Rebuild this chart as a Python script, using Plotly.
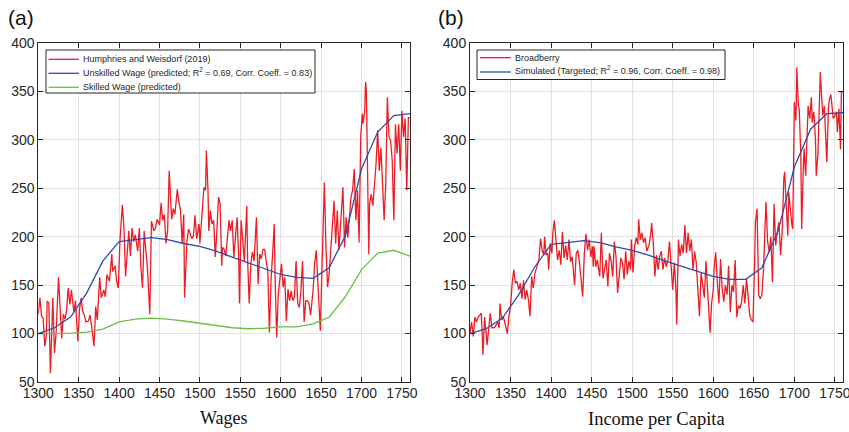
import plotly.graph_objects as go

# ---------------- Panel (a): Wages ----------------
HW_WAGE = [
    (1300,120),(1301,128),(1302,137),(1304,118),(1306,116),(1308,87),(1310,98),(1311,133),(1313,132),(1315,59),
    (1318,137),(1320,80),(1322,100),(1325,158),(1327,118),(1329,95),(1331,120),(1333,115),(1335,124),(1337,147),
    (1339,130),(1341,145),(1344,122),(1346,134),(1349,92),(1351,125),(1353,137),(1355,123),(1357,119),(1359,112),
    (1362,113),(1364,119),(1366,108),(1369,87),(1371,128),(1373,114),(1376,158),(1378,137),(1381,145),(1383,138),
    (1385,161),(1388,154),(1391,182),(1392,164),(1395,170),(1397,154),(1399,147),(1401,195),(1404,233),(1406,209),
    (1408,159),(1410,185),(1412,206),(1414,180),(1416,209),(1418,195),(1420,202),(1423,185),(1425,209),(1427,168),
    (1429,147),(1431,206),(1433,188),(1435,168),(1438,120),(1440,216),(1443,206),(1445,209),(1447,218),(1450,212),
    (1452,235),(1454,217),(1456,223),(1458,193),(1460,206),(1462,268),(1465,218),(1467,229),(1469,223),(1472,249),
    (1474,236),(1476,227),(1478,193),(1480,223),(1481,137),(1484,196),(1486,208),(1488,203),(1490,198),(1492,201),
    (1494,222),(1496,198),(1499,213),(1500,193),(1503,230),(1505,251),(1507,248),(1508,289),(1510,248),(1511,206),
    (1513,227),(1515,213),(1517,217),(1519,179),(1521,206),(1523,241),(1525,234),(1527,170),(1528,189),(1530,187),
    (1532,180),(1535,206),(1536,217),(1538,206),(1540,217),(1542,179),(1544,199),(1546,220),(1548,179),(1549,131),
    (1551,217),(1553,191),(1555,175),(1558,232),(1559,177),(1561,131),(1563,172),(1565,184),(1567,175),(1570,220),
    (1572,151),(1574,182),(1576,177),(1578,187),(1580,187),(1582,175),(1584,165),(1586,101),(1588,155),(1590,182),
    (1592,213),(1593,158),(1595,96),(1597,141),(1599,155),(1601,172),(1603,148),(1605,158),(1607,113),(1609,146),
    (1611,134),(1613,144),(1615,134),(1617,138),(1619,175),(1621,131),(1623,127),(1625,144),(1627,175),(1629,112),
    (1631,134),(1633,134),(1635,131),(1637,119),(1640,144),(1642,172),(1644,186),(1646,151),(1648,107),(1649,103),
    (1651,165),(1654,256),(1656,189),(1658,148),(1660,162),(1662,186),(1664,220),(1666,237),(1668,193),(1670,227),
    (1672,186),(1675,224),(1677,251),(1679,189),(1681,220),(1683,199),(1685,224),(1687,241),(1689,248),(1691,270),
    (1693,217),(1695,248),(1697,194),(1699,303),(1701,327),(1702,317),(1704,330),(1705,360),(1706,351),(1707,286),
    (1709,182),(1710,234),(1712,244),(1714,232),(1716,255),(1718,275),(1720,310),(1722,268),(1724,292),(1726,244),
    (1728,217),(1730,255),(1732,344),(1734,303),(1736,299),(1738,279),(1740,217),(1742,316),(1744,286),(1746,316),
    (1748,268),(1750,330),(1752,303),(1754,322),(1756,248),(1758,323),(1760,323),
]

MODEL_YEARS = [1300,1320,1340,1360,1380,1400,1420,1440,1460,1480,1500,1520,1540,1560,1580,1600,1620,1640,1660,1680,1700,1720,1740,1760]
UNSKILLED = [100,106,117,142,175,195,197,199,197,193,190,185,179,173,167,161,158,157,168,201,270,308,325,327]
SKILLED   = [100,100,100.5,101.5,104.5,112,115,116,115,113,110.5,108,106,105,105.5,107,107,110,117,138,166,183,186,180]

# ---------------- Panel (b): Income per capita ----------------
BROADBERRY = [
    (1300,100),(1302,112),(1304,97),(1306,117),(1308,112),(1310,117),(1312,119),(1314,121),(1316,78),(1318,117),
    (1320,100),(1321,88),(1323,104),(1325,121),(1327,106),(1329,106),(1331,107),(1334,112),(1336,106),(1337,131),
    (1339,114),(1341,118),(1343,111),(1346,100),(1348,118),(1350,128),(1352,152),(1354,166),(1356,152),(1358,154),
    (1360,145),(1362,152),(1364,136),(1366,155),(1368,135),(1370,145),(1372,135),(1374,118),(1376,159),(1378,147),
    (1380,162),(1382,167),(1385,176),(1387,198),(1389,186),(1391,181),(1392,200),(1394,181),(1396,183),(1397,166),
    (1399,193),(1401,183),(1402,203),(1404,217),(1406,197),(1408,176),(1410,186),(1412,171),(1414,205),(1416,178),
    (1418,191),(1420,176),(1422,197),(1424,174),(1426,179),(1429,150),(1431,183),(1433,186),(1435,173),(1437,155),
    (1439,138),(1441,183),(1443,203),(1445,186),(1447,197),(1449,179),(1451,190),(1452,169),(1453,190),(1455,169),
    (1457,176),(1460,159),(1462,204),(1464,157),(1466,169),(1468,176),(1470,149),(1472,183),(1474,175),(1476,159),
    (1478,195),(1480,180),(1482,142),(1484,163),(1486,178),(1488,173),(1490,156),(1492,185),(1494,161),(1496,175),
    (1498,166),(1499,197),(1501,163),(1503,190),(1505,199),(1507,192),(1508,218),(1510,197),(1512,204),(1514,194),
    (1516,199),(1518,185),(1521,192),(1523,204),(1524,214),(1526,194),(1528,159),(1530,181),(1532,166),(1534,180),
    (1536,185),(1538,166),(1540,178),(1542,169),(1544,175),(1546,195),(1548,163),(1550,145),(1552,173),(1554,145),
    (1555,109),(1557,197),(1559,180),(1561,192),(1563,183),(1565,212),(1567,183),(1569,204),(1571,185),(1573,197),
    (1575,166),(1577,185),(1579,173),(1581,145),(1583,118),(1585,163),(1587,152),(1589,137),(1591,175),(1593,145),
    (1596,101),(1598,132),(1600,145),(1601,167),(1603,184),(1605,153),(1607,131),(1609,177),(1611,146),(1613,133),
    (1615,150),(1617,140),(1619,170),(1621,122),(1623,150),(1625,143),(1627,176),(1629,117),(1631,129),(1633,126),
    (1635,133),(1637,150),(1639,131),(1641,157),(1643,136),(1645,119),(1647,114),(1649,112),(1651,174),(1652,215),
    (1654,229),(1656,140),(1658,136),(1660,140),(1662,167),(1664,219),(1665,236),(1667,195),(1669,184),(1671,200),
    (1673,153),(1675,234),(1677,191),(1679,205),(1681,215),(1683,181),(1685,205),(1687,260),(1688,267),(1690,232),
    (1692,201),(1693,246),(1695,225),(1697,212),(1698,208),(1700,339),(1702,320),(1703,375),(1705,335),(1706,332),
    (1708,284),(1709,208),(1711,270),(1712,291),(1714,263),(1716,301),(1717,335),(1719,322),(1721,344),(1722,318),
    (1724,329),(1726,301),(1727,263),(1729,284),(1731,347),(1732,370),(1734,339),(1735,325),(1737,335),(1738,318),
    (1740,277),(1742,332),(1743,341),(1745,347),(1747,329),(1748,322),(1750,325),(1752,329),(1753,308),(1755,332),
    (1757,290),(1758,349),(1760,350),
]

SIMULATED = [100,105,116,140,169,192,194,196,194,189.5,186,181,175,169.5,164,159,156,156,168,206,272,311,327,328]

X_TICKS = [1300,1350,1400,1450,1500,1550,1600,1650,1700,1750]
Y_TICKS = [50,100,150,200,250,300,350,400]

LEGEND_A = ["Humphries and Weisdorf (2019)",
            "Unskilled Wage (predicted; R<sup>2</sup> = 0.69, Corr. Coeff. = 0.83)",
            "Skilled Wage (predicted)"]
LEGEND_B = ["Broadberry",
            "Simulated (Targeted; R<sup>2</sup> = 0.96, Corr. Coeff. = 0.98)"]

RED = "#ee1c25"
BLUE = "#2f4da8"
GREEN = "#6cc04a"
AX = "#262626"
GRID = "#e2e2e2"
SANS = "Liberation Sans, Arial, Helvetica, sans-serif"
SERIF = "Liberation Serif, DejaVu Serif, serif"

W, H = 849, 432
def px(x): return x / W
def py(y): return 1 - y / H

fig = go.Figure()

fig.add_trace(go.Scatter(x=[p[0] for p in HW_WAGE], y=[p[1] for p in HW_WAGE], mode="lines",
                         line=dict(color=RED, width=1.3), name=LEGEND_A[0], xaxis="x", yaxis="y"))
fig.add_trace(go.Scatter(x=MODEL_YEARS, y=UNSKILLED, mode="lines",
                         line=dict(color=BLUE, width=1.3), name=LEGEND_A[1], xaxis="x", yaxis="y"))
fig.add_trace(go.Scatter(x=MODEL_YEARS, y=SKILLED, mode="lines",
                         line=dict(color=GREEN, width=1.3), name=LEGEND_A[2], xaxis="x", yaxis="y"))
fig.add_trace(go.Scatter(x=[p[0] for p in BROADBERRY], y=[p[1] for p in BROADBERRY], mode="lines",
                         line=dict(color=RED, width=1.3), name=LEGEND_B[0], xaxis="x2", yaxis="y2"))
fig.add_trace(go.Scatter(x=MODEL_YEARS, y=SIMULATED, mode="lines",
                         line=dict(color=BLUE, width=1.3), name=LEGEND_B[1], xaxis="x2", yaxis="y2"))

ydom = [py(382), py(43)]

def xax(dom, anchor):
    return dict(domain=dom, anchor=anchor, range=[1300, 1760], tickvals=X_TICKS, automargin=False,
                showline=True, linecolor=AX, linewidth=1, mirror="ticks", ticklabeloverflow="allow",
                ticklabelstandoff=-2,
                ticks="inside", ticklen=5, tickcolor=AX, showgrid=True, gridcolor=GRID,
                zeroline=False, tickfont=dict(family=SANS, size=14, color=AX))

def yax(anchor):
    return dict(domain=ydom, anchor=anchor, range=[50, 400], tickvals=Y_TICKS, automargin=False,
                showline=True, linecolor=AX, linewidth=1, mirror="ticks", ticklabeloverflow="allow",
                ticks="inside", ticklen=5, tickcolor=AX, showgrid=True, gridcolor=GRID,
                zeroline=False, tickfont=dict(family=SANS, size=14, color=AX))

shapes = []
annotations = []

def legend_box(x0, x1, y0, y1, rows, labels, colors, line_x0, line_x1, text_x):
    shapes.append(dict(type="rect", xref="paper", yref="paper", x0=px(x0), x1=px(x1), y0=py(y1), y1=py(y0),
                       line=dict(color=AX, width=1), fillcolor="white", layer="above"))
    for ry, lab, col in zip(rows, labels, colors):
        shapes.append(dict(type="line", xref="paper", yref="paper", x0=px(line_x0), x1=px(line_x1),
                           y0=py(ry), y1=py(ry), line=dict(color=col, width=1.3), layer="above"))
        yoff = -1.5 if "<sup>" in lab else 0
        annotations.append(dict(text=lab, x=px(text_x), y=py(ry + yoff), xref="paper", yref="paper",
                                xanchor="left", yanchor="middle", showarrow=False,
                                font=dict(family=SANS, size=9, color=AX)))

legend_box(46, 315, 50, 93, [59.3, 73.3, 87.3], LEGEND_A, [RED, BLUE, GREEN], 48.5, 79, 80.5)
legend_box(477, 725, 50, 79.5, [57.7, 72], LEGEND_B, [RED, BLUE], 480, 510.7, 512.5)

annotations += [
    dict(text="(a)", x=px(6), y=py(17.5), xref="paper", yref="paper", xanchor="left", yanchor="middle",
         showarrow=False, font=dict(family=SANS, size=21, color="#111111")),
    dict(text="(b)", x=px(436), y=py(17.5), xref="paper", yref="paper", xanchor="left", yanchor="middle",
         showarrow=False, font=dict(family=SANS, size=21, color="#111111")),
    dict(text="Wages", x=px(224), y=py(418), xref="paper", yref="paper", xanchor="center", yanchor="middle",
         showarrow=False, font=dict(family=SERIF, size=18, color="#111111")),
    dict(text="Income per Capita", x=px(656.5), y=py(419), xref="paper", yref="paper", xanchor="center",
         yanchor="middle", showarrow=False, font=dict(family=SERIF, size=18.5, color="#111111")),
]

fig.update_layout(
    width=W, height=H, margin=dict(l=0, r=0, t=0, b=0, autoexpand=False),
    paper_bgcolor="white", plot_bgcolor="white", showlegend=False,
    xaxis=xax([px(38.3), px(410)], "y"),
    yaxis=yax("x"),
    xaxis2=xax([px(470), px(843)], "y2"),
    yaxis2=yax("x2"),
    shapes=shapes,
    annotations=annotations,
)

fig.write_html("out.html")
